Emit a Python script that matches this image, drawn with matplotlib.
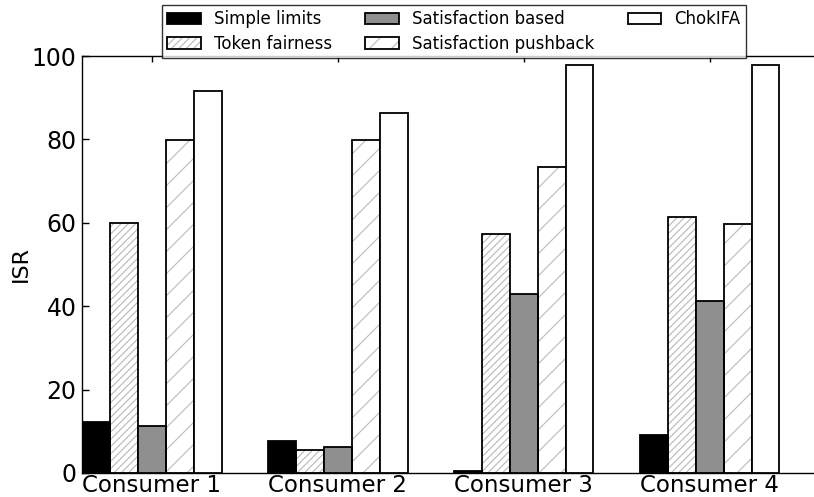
import matplotlib
matplotlib.use("Agg")
import matplotlib.pyplot as plt
from matplotlib.patches import Patch
from matplotlib.legend_handler import HandlerTuple
import numpy as np

categories = ["Consumer 1", "Consumer 2", "Consumer 3", "Consumer 4"]
series_names = ["Simple limits", "Token fairness", "Satisfaction based",
                "Satisfaction pushback", "ChokIFA"]
simple_limits = [12.3, 7.7, 0.5, 9.2]
token_fairness = [59.9, 5.6, 57.3, 61.3]
satisfaction_based = [11.3, 6.3, 43.0, 41.3]
satisfaction_pushback = [79.8, 79.8, 73.5, 59.8]
chokifa = [91.5, 86.3, 97.8, 97.8]
y_ticks = [0, 20, 40, 60, 80, 100]

series = [simple_limits, token_fairness, satisfaction_based,
          satisfaction_pushback, chokifa]
fills = ["black", "white", "0.56", "white", "white"]
hatches = [None, "///", None, "/", None]

# Low dpi gives a coarser hatch cell; point sizes are scaled to compensate.
DPI = 66
S = 100 / DPI
W, H = 814, 497

plt.rcParams["hatch.linewidth"] = 0.8 * S

fig = plt.figure(figsize=(W / DPI, H / DPI), dpi=DPI)
ax = fig.add_axes([82 / W, 24 / H, 744 / W, 417 / H])

x = np.arange(len(categories))
width = 0.15
lw = 1.3 * S
handles = []
for i, (vals, fc, h) in enumerate(zip(series, fills, hatches)):
    pos = x + (i - 2) * width
    if h:
        ax.bar(pos, vals, width, color=fc, hatch=h, edgecolor="0.72",
               linewidth=0, zorder=2)
    ax.bar(pos, vals, width, color=fc if not h else "none",
           edgecolor="black", linewidth=lw, zorder=3)
    if h:
        handles.append((Patch(facecolor="white", hatch=h, edgecolor="0.72", linewidth=0),
                        Patch(facecolor="none", edgecolor="black", linewidth=lw)))
    else:
        handles.append(Patch(facecolor=fc, edgecolor="black", linewidth=lw))

ax.set_xlim(-0.375, 3.625)
ax.set_ylim(0, 100)
ax.set_yticks(y_ticks)
ax.set_xticks(x)
ax.set_xticklabels(categories)
ax.tick_params(direction="in", top=True, right=True, width=1.0 * S)
ax.tick_params(axis="x", length=4 * S, pad=1 * S, labelsize=16.5 * S)
ax.tick_params(axis="y", length=5 * S, pad=4 * S, labelsize=17 * S)
ax.set_ylabel("ISR", fontsize=16 * S, labelpad=0.5)
for s in ax.spines.values():
    s.set_linewidth(1.0 * S)

leg = ax.legend(handles, series_names, ncol=3, loc="lower center",
                bbox_to_anchor=(0.5, 0.995), borderaxespad=0,
                fontsize=12 * S, frameon=True,
                fancybox=False, edgecolor="black", handlelength=2.0,
                labelspacing=0.4, borderpad=0.3, columnspacing=2.0,
                handler_map={tuple: HandlerTuple(ndivide=1, pad=0)})
leg.get_frame().set_linewidth(1.0 * S)

fig.savefig("out.png", dpi=DPI)
